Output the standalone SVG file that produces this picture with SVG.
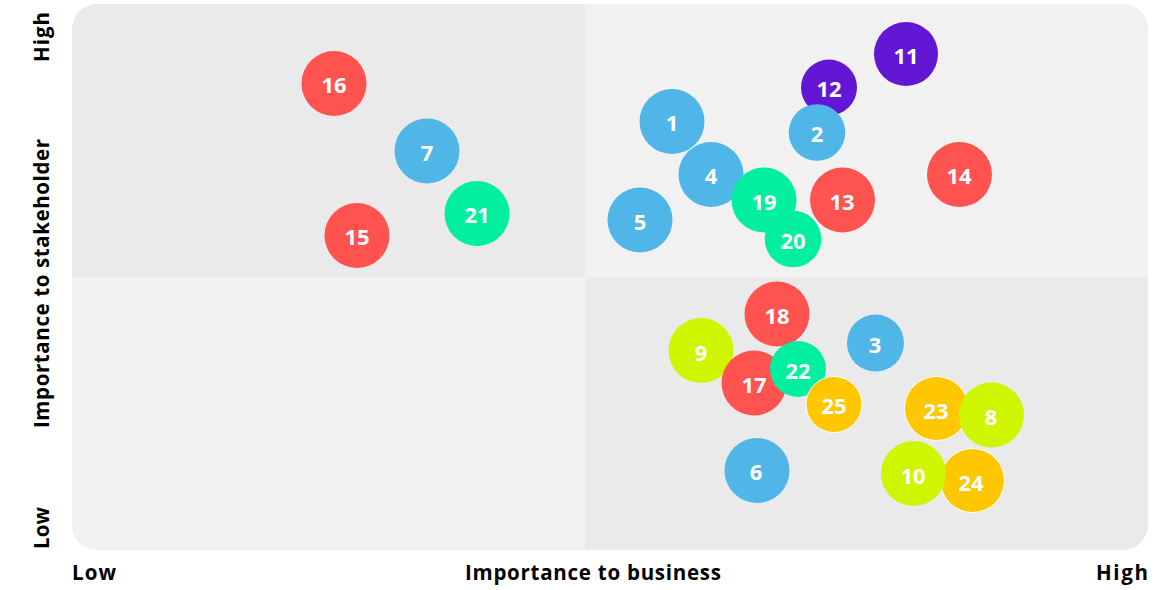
<svg xmlns="http://www.w3.org/2000/svg" width="1173" height="590" viewBox="0 0 1173 590">
<style>
.ax{font-family:"Open Sans","Liberation Sans",sans-serif;font-weight:700;font-size:20.5px;fill:#000}
.n text{font-family:"Open Sans","Liberation Sans",sans-serif;font-weight:700;font-size:22px;fill:#fff;text-anchor:middle;dominant-baseline:central}
.red{fill:#FF5350}.blue{fill:#50B6E7}.green{fill:#02EFA0}.purple{fill:#6217D5}.lime{fill:#CFF500}.amber{fill:#FFC700;stroke:#fff;stroke-width:1}
</style>
<defs>
<clipPath id="plot"><rect x="72" y="4" width="1076" height="546" rx="25" ry="25"/></clipPath>
</defs>
<rect width="1173" height="590" fill="#fff"/>
<g id="plot-bg" clip-path="url(#plot)">
<rect x="72" y="4" width="513" height="273" fill="#EAEAEA"/>
<rect x="585" y="4" width="563" height="273" fill="#F1F1F1"/>
<rect x="72" y="277" width="513" height="273" fill="#F1F1F1"/>
<rect x="585" y="277" width="563" height="273" fill="#EAEAEA"/>
</g>
<g id="connectors"></g>
<g id="axis-labels">
<text class="ax" x="72" y="580" textLength="44">Low</text>
<text class="ax" x="465" y="580" textLength="256">Importance to business</text>
<text class="ax" x="1096" y="580" textLength="52">High</text>
<text class="ax" transform="translate(49,62) rotate(-90)" textLength="50">High</text>
<text class="ax" transform="translate(49,428) rotate(-90)" textLength="289">Importance to stakeholder</text>
<text class="ax" transform="translate(49,549) rotate(-90)" textLength="42">Low</text>
</g>
<g id="n16" class="n"><circle class="red" cx="334" cy="83.5" r="32.5"/><text x="334" y="84">16</text></g>
<g id="n7" class="n"><circle class="blue" cx="427" cy="151" r="32.5"/><text x="427" y="152">7</text></g>
<g id="n21" class="n"><circle class="green" cx="477" cy="213.5" r="32.5"/><text x="477" y="214">21</text></g>
<g id="n15" class="n"><circle class="red" cx="357" cy="235.5" r="32.5"/><text x="357" y="236">15</text></g>
<g id="n11" class="n"><circle class="purple" cx="906" cy="54" r="32"/><text x="906" y="55">11</text></g>
<g id="n12" class="n"><circle class="purple" cx="829" cy="87.5" r="28"/><text x="829" y="88">12</text></g>
<g id="n2" class="n"><circle class="blue" cx="817" cy="132.5" r="28.3"/><text x="817" y="133">2</text></g>
<g id="n1" class="n"><circle class="blue" cx="672" cy="121.5" r="32.5"/><text x="672" y="122">1</text></g>
<g id="n4" class="n"><circle class="blue" cx="711" cy="174.5" r="32.5"/><text x="711" y="175">4</text></g>
<g id="n14" class="n"><circle class="red" cx="959.5" cy="174.5" r="32.5"/><text x="959" y="175">14</text></g>
<g id="n5" class="n"><circle class="blue" cx="640" cy="220" r="32.5"/><text x="640" y="220.5">5</text></g>
<g id="n19" class="n"><circle class="green" cx="764" cy="200" r="32.5"/><text x="764" y="200.5">19</text></g>
<g id="n13" class="n"><circle class="red" cx="842.5" cy="200" r="32.5"/><text x="842" y="200.5">13</text></g>
<g id="n20" class="n"><circle class="green" cx="793" cy="239" r="28.3"/><text x="793" y="240">20</text></g>
<g id="n18" class="n"><circle class="red" cx="777" cy="314" r="32.5"/><text x="777" y="315">18</text></g>
<g id="n9" class="n"><circle class="lime" cx="701" cy="350.5" r="32.5"/><text x="701" y="351.5">9</text></g>
<g id="n3" class="n"><circle class="blue" cx="875.5" cy="343" r="28.5"/><text x="875" y="344">3</text></g>
<g id="n17" class="n"><circle class="red" cx="754" cy="383" r="32.5"/><text x="754" y="384">17</text></g>
<g id="n22" class="n"><circle class="green" cx="798" cy="369" r="28"/><text x="798" y="370">22</text></g>
<g id="n25" class="n"><circle class="amber" cx="834" cy="404.5" r="28"/><text x="834" y="405">25</text></g>
<g id="n23" class="n"><circle class="amber" cx="936.5" cy="408.5" r="32"/><text x="936" y="409.5">23</text></g>
<g id="n8" class="n"><circle class="lime" cx="991.5" cy="415" r="32.5"/><text x="991" y="416">8</text></g>
<g id="n6" class="n"><circle class="blue" cx="757" cy="470.5" r="32.5"/><text x="756" y="471">6</text></g>
<g id="n24" class="n"><circle class="amber" cx="972.5" cy="480.5" r="32"/><text x="971" y="481.5">24</text></g>
<g id="n10" class="n"><circle class="lime" cx="913.5" cy="473.5" r="32.5"/><text x="913" y="474.5">10</text></g>
</svg>
